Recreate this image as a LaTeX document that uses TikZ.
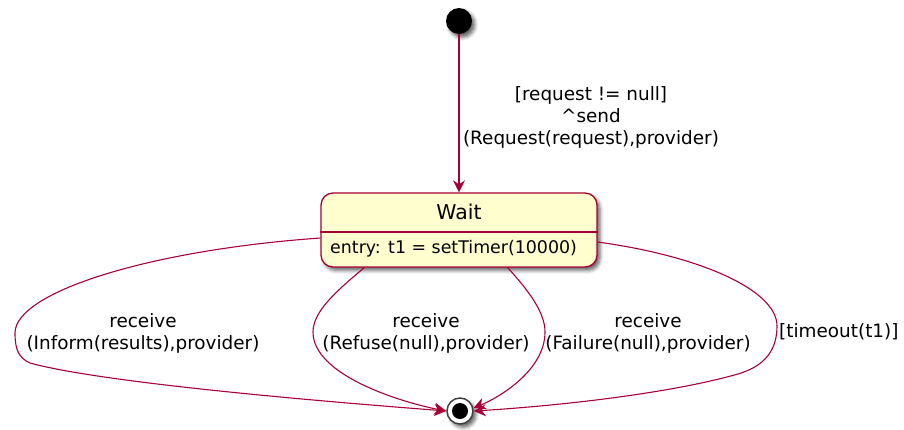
\documentclass[tikz,border=0pt]{standalone}
\usepackage{fontspec}
\setmainfont{DejaVu Sans}
\usetikzlibrary{arrows.meta,shadows.blur}
\definecolor{umlred}{HTML}{A80036}
\definecolor{umlfill}{HTML}{FEFECE}
\tikzset{
  trans/.style={draw=umlred, line width=1.1pt, -{Stealth[length=12pt,width=12pt,inset=4pt]}},
  lbl/.style={font=\fontsize{18.4}{22}\selectfont, align=center, inner sep=0pt},
  dropshade/.style={blur shadow={shadow xshift=3pt,shadow yshift=-3.5pt,shadow blur radius=3.5pt,shadow opacity=60}},
}
\begin{document}
\begin{tikzpicture}[x=1pt,y=-1pt]
\useasboundingbox (0,0) rectangle (904,429);

% initial pseudo-state
\node[circle, fill=black, minimum size=26pt, inner sep=0pt, dropshade] (start) at (459,21) {};

% state Wait
\node[draw=umlred, fill=umlfill, line width=1.3pt, rounded corners=12pt,
      minimum width=276pt, minimum height=74pt, inner sep=0pt, dropshade] (wait) at (459,230) {};
\coordinate (divy) at (0,232);
\draw[umlred, line width=1.3pt] (wait.west |- divy) -- (wait.east |- divy);
\node[font=\fontsize{20.4}{24}\selectfont, inner sep=0pt] (title) at (459,212) {Wait};
\node[anchor=west, font=\fontsize{17.4}{20}\selectfont, inner sep=0pt] (entry) at (330,249) {entry: t1 = setTimer(10000)};

% final state
\node[circle, draw=black!75, line width=1.5pt, fill=white, minimum size=26pt, inner sep=0pt, dropshade] (stop) at (460,411) {};
\node[circle, fill=black, minimum size=16pt, inner sep=0pt] (stopdot) at (stop) {};

% transitions
\draw[trans] (start) -- (wait);
\node[lbl] (l0) at (591,117) {[request != null]\\\textasciicircum send\\(Request(request),provider)};

\draw[trans] ([yshift=-8pt]wait.west) .. controls (150,250) and (15,292) .. (15,333)
  .. controls (15,350) and (19,358) .. (30,363)
  .. controls (110,385) and (370,405) .. (stop.west);
\node[lbl] (l1) at (143,333) {receive\\(Inform(results),provider)};

\draw[trans] ([xshift=44pt]wait.south west) .. controls (335,292) and (313,312) .. (313,332)
  .. controls (313,375) and (400,402) .. (stop.west);
\node[lbl] (l2) at (426,333) {receive\\(Refuse(null),provider)};

\draw[trans] ([xshift=-90pt]wait.south east) .. controls (528,290) and (545,312) .. (545,332)
  .. controls (545,370) and (500,397) .. (stop.12);
\node[lbl] (l3) at (648,333) {receive\\(Failure(null),provider)};

\draw[trans] ([yshift=-12pt]wait.east) .. controls (700,256) and (777,290) .. (777,326)
  .. controls (777,350) and (765,366) .. (738,374)
  .. controls (660,396) and (540,407) .. (stop.east);
\node[lbl, anchor=west] (l4) at (779,332) {[timeout(t1)]};
\end{tikzpicture}
\end{document}
